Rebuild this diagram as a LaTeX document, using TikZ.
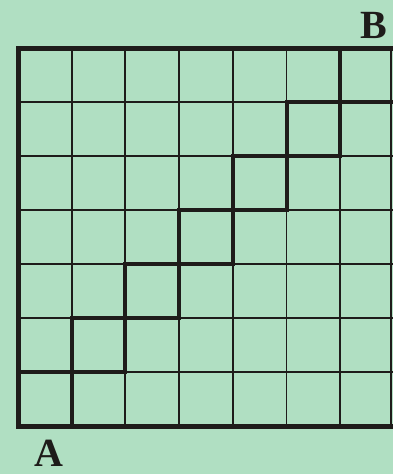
\documentclass[tikz,border=0pt]{standalone}
\usepackage{fontspec}
\setmainfont{Liberation Serif}
\definecolor{paper}{RGB}{176,223,194}
\definecolor{ink}{RGB}{30,28,26}
\begin{document}
\begin{tikzpicture}[x=1pt,y=-1pt,
  gridline/.style={ink,line width=1.9pt},
  rimline/.style={ink,line width=5pt,line join=miter},
  stairline/.style={ink,line width=4pt,line join=miter},
  letter/.style={font=\fontsize{40}{40}\selectfont\bfseries,text=ink,inner sep=0pt,anchor=base}]
\fill[paper] (0,0) rectangle (393,474);
\useasboundingbox (0,0) rectangle (393,474);
% thin grid
\foreach \x in {71.7,125.4,179.1,232.8,286.5,340.2} {\draw[gridline] (\x,48) -- (\x,426);}
\foreach \y in {102,156,210,264,318,372} {\draw[gridline] (18,\y) -- (393,\y);}
\draw[ink,line width=2.4pt] (391,48) -- (391,426);
% outer rim
\draw[rimline] (393,48) -- (18,48) -- (18,426) -- (393,426);
% staircase band
\draw[stairline] (18,372) -- (71.7,372) -- (71.7,318) -- (125.4,318) -- (125.4,264) -- (179.1,264) -- (179.1,210) -- (232.8,210) -- (232.8,156) -- (286.5,156) -- (286.5,102) -- (340.2,102) -- (340.2,48);
\draw[stairline] (71.7,426) -- (71.7,372) -- (125.4,372) -- (125.4,318) -- (179.1,318) -- (179.1,264) -- (232.8,264) -- (232.8,210) -- (286.5,210) -- (286.5,156) -- (340.2,156) -- (340.2,102) -- (393,102);
% labels
\node[letter] (B) at (373.5,38) {B};
\node[letter] (A) at (48.5,466) {A};
\end{tikzpicture}
\end{document}
